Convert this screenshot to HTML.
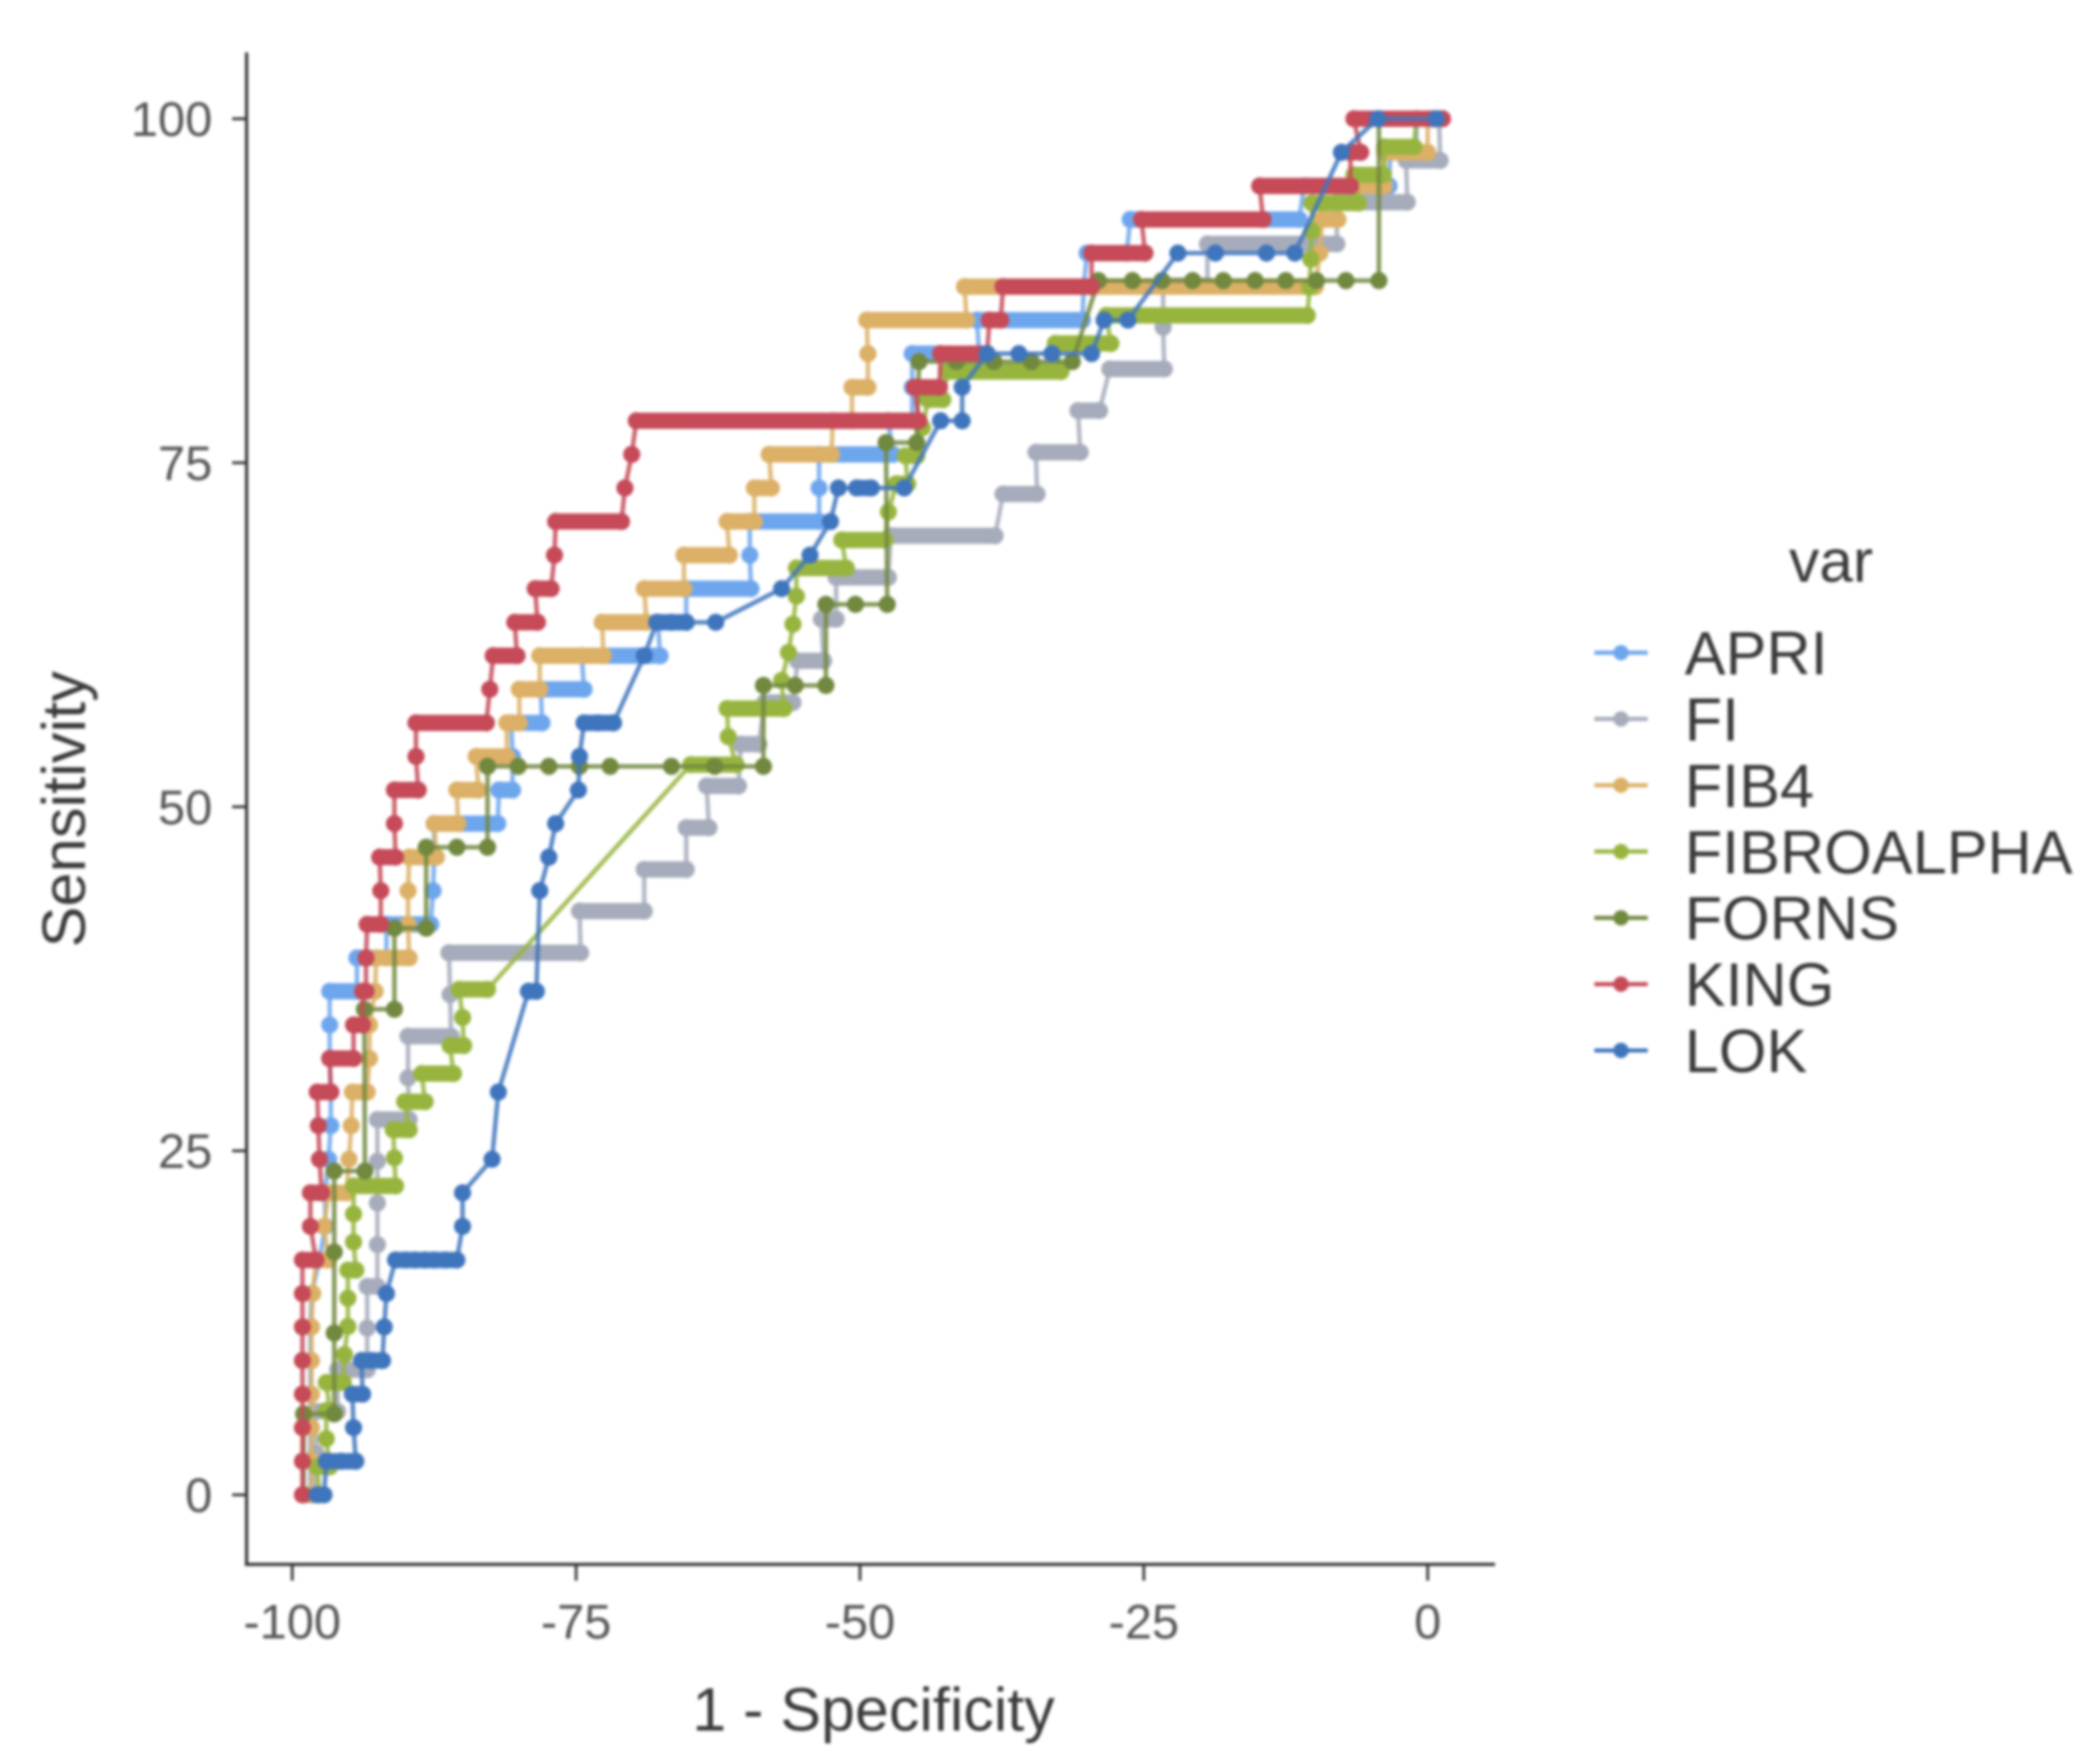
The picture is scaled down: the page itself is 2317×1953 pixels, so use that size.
<!DOCTYPE html>
<html lang="en">
<head>
<meta charset="utf-8">
<title>ROC curves</title>
<style>
html,body{margin:0;padding:0;background:#fff;width:2317px;height:1953px;overflow:hidden}
svg{display:block;font-family:"Liberation Sans",sans-serif;filter:blur(1.5px)}
</style>
</head>
<body>
<svg id="chart" xmlns="http://www.w3.org/2000/svg" width="2317" height="1953" viewBox="0 0 2317 1953">
  <rect x="0" y="0" width="2317" height="1953" fill="#ffffff"/>
  <g id="axes"></g>
  <g id="marks"></g>
  <text x="967" y="1916" font-size="67.5" fill="#3a3a3a" text-anchor="middle">1 - Specificity</text>
  <text transform="translate(94,896) rotate(-90)" font-size="68" fill="#3a3a3a" text-anchor="middle">Sensitivity</text>
  <text x="2027" y="644" font-size="67" fill="#3a3a3a" text-anchor="middle">var</text>
  <g id="legend"></g>
</svg>
<script>
const xTicks = [-100, -75, -50, -25, 0];
const yTicks = [0, 25, 50, 75, 100];
const seriesNames = ['APRI', 'FI', 'FIB4', 'FIBROALPHA', 'FORNS', 'KING', 'LOK'];

const fprAPRI = [-98.4,-98.4,-98.4,-98.4,-98.4,-98.4,-98.3,-97.6,-97.1,-97.1,
  -96.8,-96.6,-96.6,-96.7,-96.7,-96.7,-94.3,-94.3,-91.7,-91.7,
  -87.8,-87.6,-87.5,-87.5,-81.9,-81.8,-80.6,-80.6,-80.7,-78,
  -78.1,-74.3,-74.5,-67.6,-67.8,-65.3,-65.3,-59.6,-59.7,-59.7,
  -53.6,-53.6,-53.6,-47.1,-47.5,-45.4,-45.4,-45.4,-39.5,-39.7,
  -30.4,-30.3,-30,-26.5,-26.2,-11.3,-10.9,-3.4,-3.3,-1,
  -1,0.5];
const sensAPRI = [0,2.44,4.88,7.32,9.76,12.2,14.63,17.07,19.51,21.95,
  24.39,26.83,29.27,31.71,34.15,36.59,36.59,39.02,39.02,41.46,
  41.46,43.9,46.34,48.78,48.78,51.22,51.22,53.66,56.1,56.1,
  58.54,58.54,60.98,60.98,63.41,63.41,65.85,65.85,68.29,70.73,
  70.73,73.17,75.61,75.61,78.05,78.05,80.49,82.93,82.93,85.37,
  85.37,87.8,90.24,90.24,92.68,92.68,95.12,95.12,97.56,97.56,
  100,100];

const fprFI = [-98,-97.9,-98,-96,-96,-93.4,-93.4,-93.4,-92.5,-92.5,
  -92.5,-92.5,-92.5,-89.7,-89.8,-89.8,-86,-86.1,-86.2,-74.6,
  -74.7,-69,-69,-65.3,-65.3,-63.3,-63.5,-60.7,-60.5,-58.9,
  -58.4,-55.9,-55.5,-53.2,-53.4,-52.1,-52.1,-47.5,-47.3,-38.1,
  -37.4,-34.4,-34.5,-30.6,-30.8,-28.9,-28,-23.2,-23.3,-23.3,
  -19.4,-19.4,-8,-8,-1.8,-1.9,1.1,1];
const sensFI = [0,3.03,6.06,6.06,9.09,9.09,12.12,15.15,15.15,18.18,
  21.21,24.24,27.27,27.27,30.3,33.33,33.33,36.36,39.39,39.39,
  42.42,42.42,45.45,45.45,48.48,48.48,51.52,51.52,54.55,54.55,
  57.58,57.58,60.61,60.61,63.64,63.64,66.67,66.67,69.7,69.7,
  72.73,72.73,75.76,75.76,78.79,78.79,81.82,81.82,84.85,87.88,
  87.88,90.91,90.91,93.94,93.94,96.97,96.97,100];

const fprFIB4 = [-98.3,-98.3,-98.3,-98.3,-98.3,-98.3,-98.2,-97.9,-96.8,-97.2,
  -96.8,-95.2,-95,-94.8,-94.7,-93.4,-93.2,-93.2,-92.7,-92.6,
  -89.7,-89.8,-89.8,-89.7,-87.3,-87.5,-85.4,-85.5,-83.6,-83.8,
  -81.1,-81.1,-80,-80,-78.2,-78.2,-72.6,-72.7,-68.8,-69,
  -65.5,-65.5,-61.5,-61.7,-59.3,-59.3,-57.8,-58,-52.5,-52.4,
  -50.7,-50.7,-49.3,-49.3,-49.4,-40.6,-40.8,-9.9,-9.5,-9.3,
  -7.9,-7.9,-3.8,-3.8,0,0,1];
const sensFIB4 = [0,2.44,4.88,7.32,9.76,12.2,14.63,17.07,17.07,19.51,
  21.95,21.95,24.39,26.83,29.27,29.27,31.71,34.15,36.59,39.02,
  39.02,41.46,43.9,46.34,46.34,48.78,48.78,51.22,51.22,53.66,
  53.66,56.1,56.1,58.54,58.54,60.98,60.98,63.41,63.41,65.85,
  65.85,68.29,68.29,70.73,70.73,73.17,73.17,75.61,75.61,78.05,
  78.05,80.49,80.49,82.93,85.37,85.37,87.8,87.8,90.24,92.68,
  92.68,95.12,95.12,97.56,97.56,100,100];

const fprFIBROALPHA = [-97.6,-97.8,-96.7,-97,-97,-96.7,-97,-95.5,-95.4,-95.1,
  -95.1,-95.1,-94.4,-94.6,-94.6,-94.6,-90.9,-91,-91.1,-89.7,
  -90.1,-88.3,-88.6,-85.8,-86.1,-84.9,-85,-85.3,-82.8,-64.9,
  -60.9,-61.6,-61.7,-56.7,-56.9,-56.3,-55.9,-55.6,-55.6,-51.2,
  -51.6,-47.8,-47.5,-46.8,-45.8,-46,-45,-44.5,-44,-42.7,
  -42.3,-32.3,-32.8,-27.9,-28.3,-10.6,-10.4,-10.3,-10.2,-10.2,
  -6.1,-6.5,-3.9,-3.8,-1.2,-1,0.7];
const sensFIBROALPHA = [0,2.04,2.04,4.08,6.12,6.12,8.16,8.16,10.2,12.24,
  14.29,16.33,16.33,18.37,20.41,22.45,22.45,24.49,26.53,26.53,
  28.57,28.57,30.61,30.61,32.65,32.65,34.69,36.73,36.73,53.06,
  53.06,55.1,57.14,57.14,59.18,61.22,63.27,65.31,67.35,67.35,
  69.39,69.39,71.43,73.47,73.47,75.51,75.51,77.55,79.59,79.59,
  81.63,81.63,83.67,83.67,85.71,85.71,87.76,89.8,91.84,93.88,
  93.88,95.92,95.92,97.96,97.96,100,100];

const fprFORNS = [-99,-99,-96.3,-96.3,-96.3,-96.3,-93.6,-93.65,-91,
  -91,-88.2,-88.2,-85.5,-82.8,-82.8,-80.1,-77.4,-74.7,-72,
  -66.6,-62.8,-58.5,-58.5,-55.7,-53,-53,-50.4,-47.6,
  -47.7,-45,-44.8,-41.5,-38.2,-34.9,-31.3,-29,-26,-23.4,
  -20.7,-18,-15.2,-12.5,-9.8,-7.2,-4.3,-4.3,0.5];
const sensFORNS = [0,5.88,5.88,11.76,17.65,23.53,23.53,35.29,35.29,
  41.18,41.18,47.06,47.06,47.06,52.94,52.94,52.94,52.94,52.94,
  52.94,52.94,52.94,58.82,58.82,58.82,64.71,64.71,64.71,
  76.47,76.47,82.35,82.35,82.35,82.35,82.35,88.24,88.24,88.24,
  88.24,88.24,88.24,88.24,88.24,88.24,88.24,100,100];

const fprKING = [-99.1,-99.1,-99.1,-99.1,-99.1,-99.1,-99.1,-99.1,-97.9,-98.4,
  -98.4,-97.4,-97.6,-97.7,-97.8,-96.6,-96.7,-94.6,-94.6,-93.8,
  -93.8,-93.5,-93.5,-93.4,-92.2,-92.2,-92.3,-90.9,-91,-91,
  -88.9,-89.1,-89.1,-82.9,-82.6,-82.3,-80.2,-80.4,-78.4,-78.6,
  -77.2,-76.9,-76.8,-71,-70.7,-70.1,-69.7,-44.8,-45.2,-43,
  -42.9,-38.8,-38.6,-37.6,-37.4,-29.6,-29.6,-24.9,-25.2,-14.5,
  -14.8,-6.8,-6.8,-5.9,-6.5,1.3];
const sensKING = [0,2.44,4.88,7.32,9.76,12.2,14.63,17.07,17.07,19.51,
  21.95,21.95,24.39,26.83,29.27,29.27,31.71,31.71,34.15,34.15,
  36.59,36.59,39.02,41.46,41.46,43.9,46.34,46.34,48.78,51.22,
  51.22,53.66,56.1,56.1,58.54,60.98,60.98,63.41,63.41,65.85,
  65.85,68.29,70.73,70.73,73.17,75.61,78.05,78.05,80.49,80.49,
  82.93,82.93,85.37,85.37,87.8,87.8,90.24,90.24,92.68,92.68,
  95.12,95.12,97.56,97.56,100,100];

const fprLOK = [-97.8,-97.2,-97,-95.7,-94.4,-94.6,-94.7,-93.8,-93.9,-93,
  -92.05,-91.9,-91.7,-90.9,-90,-89.2,-88.3,-87.5,-86.5,-85.5,
  -85,-85,-82.4,-81.85,-79.2,-78.5,-78.2,-77.4,-76.8,-74.8,
  -74.7,-74.3,-73.1,-71.7,-69,-67.9,-66.6,-65.3,-62.7,-56.9,
  -54.4,-52.6,-51.9,-50.3,-49,-46.1,-42.9,-41,-41,-38.8,
  -36,-33.1,-29.6,-28.5,-26.4,-22,-18.7,-14.2,-11.7,-7.6,
  -4.4,0.75];
const sensLOK = [0,0,2.44,2.44,2.44,4.88,7.32,7.32,9.76,9.76,
  9.76,12.2,14.63,17.07,17.07,17.07,17.07,17.07,17.07,17.07,
  19.51,21.95,24.39,29.27,36.59,36.59,43.9,46.34,48.78,51.22,
  53.66,56.1,56.1,56.1,60.98,63.41,63.41,63.41,63.41,65.85,
  68.29,70.73,73.17,73.17,73.17,73.17,78.05,78.05,80.49,82.93,
  82.93,82.93,82.93,85.37,85.37,90.24,90.24,90.24,90.24,97.56,
  100,100];

const seriesFpr = [fprAPRI, fprFI, fprFIB4, fprFIBROALPHA, fprFORNS, fprKING, fprLOK];
const seriesSens = [sensAPRI, sensFI, sensFIB4, sensFIBROALPHA, sensFORNS, sensKING, sensLOK];
const seriesColors = ['#6ea6ee', '#a6acbb', '#dcb066', '#97b53e', '#71883f', '#c64a58', '#3f75bd'];
const denseRunGap = [40, 40, 40, 40, 1.5, 40, 1.5];

const NS = 'http://www.w3.org/2000/svg';
const scaleX = function (v) { return 1580.5 + 12.57 * v; };
const scaleY = function (v) { return 1655 - 15.235 * v; };
const axisGroup = document.getElementById('axes');
const marksGroup = document.getElementById('marks');
const legendGroup = document.getElementById('legend');

function svgEl(tag, parent) {
  const el = document.createElementNS(NS, tag);
  parent.appendChild(el);
  return el;
}

const yAxisLine = svgEl('line', axisGroup);


yAxisLine.setAttribute('x1', 273); yAxisLine.setAttribute('x2', 273);
yAxisLine.setAttribute('y1', 58); yAxisLine.setAttribute('y2', 1733);
yAxisLine.setAttribute('stroke', '#333333'); yAxisLine.setAttribute('stroke-width', 3.5);

const xAxisLine = svgEl('line', axisGroup);


xAxisLine.setAttribute('x1', 271); xAxisLine.setAttribute('x2', 1655);
xAxisLine.setAttribute('y1', 1732); xAxisLine.setAttribute('y2', 1732);
xAxisLine.setAttribute('stroke', '#333333'); xAxisLine.setAttribute('stroke-width', 3.5);

xTicks.forEach(function (t) {
  const tick = svgEl('line', axisGroup);
  
  
  tick.setAttribute('x1', scaleX(t)); tick.setAttribute('x2', scaleX(t));
  tick.setAttribute('y1', 1732); tick.setAttribute('y2', 1750);
  tick.setAttribute('stroke', '#333333'); tick.setAttribute('stroke-width', 3);
  const label = svgEl('text', axisGroup);
  
  
  label.setAttribute('x', scaleX(t)); label.setAttribute('y', 1814);
  label.setAttribute('text-anchor', 'middle');
  label.setAttribute('font-size', 54);
  label.setAttribute('fill', '#555555');
  label.textContent = String(t);
});

yTicks.forEach(function (t) {
  const tick = svgEl('line', axisGroup);
  
  
  tick.setAttribute('x1', 257); tick.setAttribute('x2', 273);
  tick.setAttribute('y1', scaleY(t)); tick.setAttribute('y2', scaleY(t));
  tick.setAttribute('stroke', '#333333'); tick.setAttribute('stroke-width', 3);
  const label = svgEl('text', axisGroup);
  
  
  label.setAttribute('x', 235); label.setAttribute('y', scaleY(t) + 19);
  label.setAttribute('text-anchor', 'end');
  label.setAttribute('font-size', 54);
  label.setAttribute('fill', '#555555');
  label.textContent = String(t);
});

seriesNames.forEach(function (name, s) {
  const fpr = seriesFpr[s];
  const sens = seriesSens[s];
  const color = seriesColors[s];
  const group = svgEl('g', marksGroup);
  
  

  const pts = fpr.map(function (v, i) { return scaleX(v) + ',' + scaleY(sens[i]); }).join(' ');
  const line = svgEl('polyline', group);
  
  
  line.setAttribute('points', pts);
  line.setAttribute('fill', 'none');
  line.setAttribute('stroke', color);
  line.setAttribute('stroke-width', 5);
  line.setAttribute('stroke-opacity', 0.85);

  fpr.forEach(function (v, i) {
    if (i > 0 && sens[i] === sens[i - 1] && Math.abs(v - fpr[i - 1]) <= denseRunGap[s]) {
      const run = svgEl('line', group);
      
      
      run.setAttribute('x1', scaleX(fpr[i - 1])); run.setAttribute('x2', scaleX(v));
      run.setAttribute('y1', scaleY(sens[i])); run.setAttribute('y2', scaleY(sens[i]));
      run.setAttribute('stroke', color);
      run.setAttribute('stroke-width', 18);
      run.setAttribute('stroke-linecap', 'round');
    }
    const dot = svgEl('circle', group);
    
    
    dot.setAttribute('cx', scaleX(v));
    dot.setAttribute('cy', scaleY(sens[i]));
    dot.setAttribute('r', 9.5);
    dot.setAttribute('fill', color);
  });

  const rowY = 722.6 + 73.4 * s;
  const entry = svgEl('g', legendGroup);
  
  
  const keyLine = svgEl('line', entry);
  
  
  keyLine.setAttribute('x1', 1765); keyLine.setAttribute('x2', 1824);
  keyLine.setAttribute('y1', rowY); keyLine.setAttribute('y2', rowY);
  keyLine.setAttribute('stroke', color); keyLine.setAttribute('stroke-width', 4.5);
  const keyDot = svgEl('circle', entry);
  
  
  keyDot.setAttribute('cx', 1794.5); keyDot.setAttribute('cy', rowY);
  keyDot.setAttribute('r', 8.5); keyDot.setAttribute('fill', color);
  const keyText = svgEl('text', entry);
  
  
  keyText.setAttribute('x', 1865); keyText.setAttribute('y', rowY + 24);
  keyText.setAttribute('font-size', 67.8);
  keyText.setAttribute('fill', '#3a3a3a');
  keyText.textContent = name;
});
</script>
</body>
</html>
